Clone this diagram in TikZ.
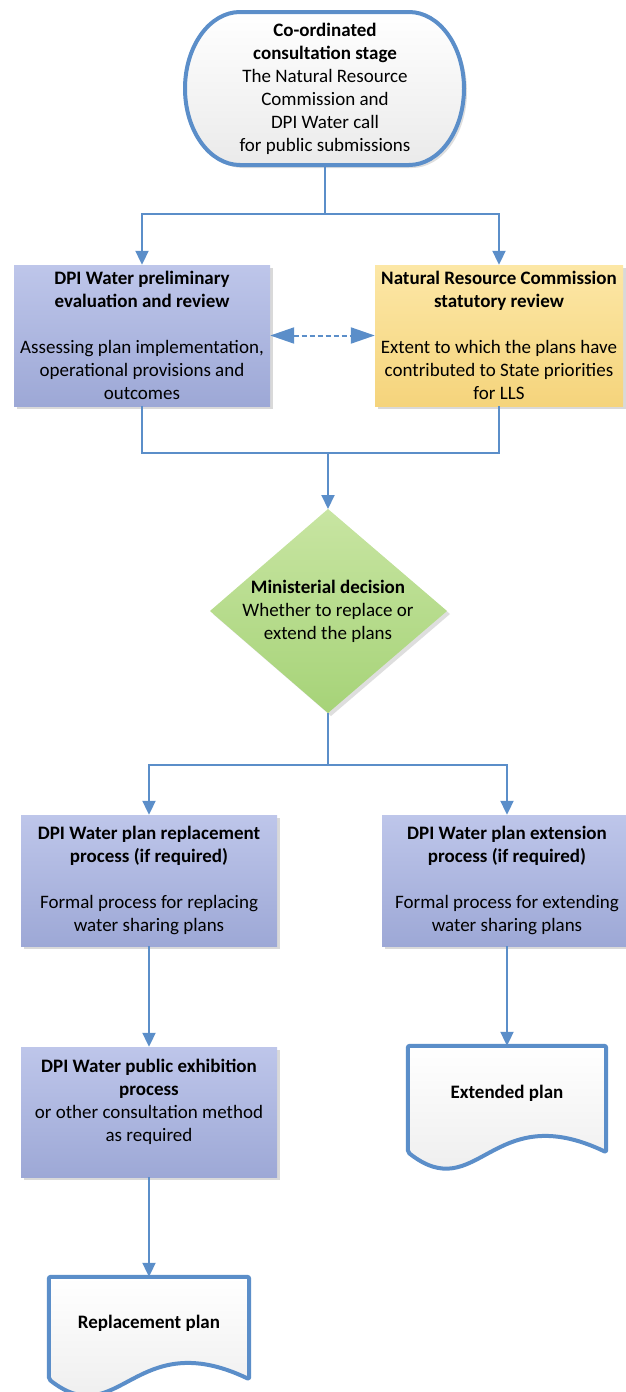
\documentclass[tikz,border=0pt]{standalone}
\usepackage{fontspec}
\setmainfont{Carlito}
\usetikzlibrary{arrows.meta,shadows,calc}
\definecolor{lblue}{RGB}{91,142,201}
\definecolor{boxtop}{RGB}{190,198,234}
\definecolor{boxbot}{RGB}{157,168,214}
\definecolor{ytop}{RGB}{252,231,166}
\definecolor{ybot}{RGB}{245,212,124}
\definecolor{gtop}{RGB}{200,229,162}
\definecolor{gbot}{RGB}{166,211,120}
\definecolor{wbot}{RGB}{234,234,234}
\begin{document}
\begin{tikzpicture}[x=1pt,y=1pt,
  txt/.style={font=\fontsize{19}{23}\selectfont, align=center, inner sep=0pt, text=black},
  shd/.style={drop shadow={shadow xshift=3pt, shadow yshift=-3pt, fill=black, opacity=0.15}},
  procbox/.style={txt, rectangle, top color=boxtop, bottom color=boxbot, shd},
  ybox/.style={txt, rectangle, top color=ytop, bottom color=ybot, shd},
  docn/.style={rectangle, inner sep=0pt},
  shadowfill/.style={fill=black, opacity=0.13},
  bord/.style={draw=lblue, line width=4pt, line join=round, top color=white, bottom color=wbot},
  ln/.style={draw=lblue, line width=2pt},
  arr/.style={ln, -{Triangle[width=13pt,length=14pt]}},
  dbl/.style={ln, dash pattern=on 5pt off 3pt, {Triangle[width=16pt,length=24pt]}-{Triangle[width=16pt,length=24pt]}}
]
\useasboundingbox (0,0) rectangle (625,-1392);

% ---- start terminator
\fill[shadowfill] (412,-15) arc[start angle=90,end angle=-90,x radius=55,y radius=76.5] -- (243,-168) arc[start angle=270,end angle=90,x radius=55,y radius=76.5] -- cycle;
\path[bord] (409,-12) arc[start angle=90,end angle=-90,x radius=55,y radius=76.5] -- (240,-165) arc[start angle=270,end angle=90,x radius=55,y radius=76.5] -- cycle;
\node[txt] (start) at (325,-88.5) {\textbf{Co-ordinated}\\\textbf{consultation stage}\\The Natural Resource\\Commission and\\DPI Water call\\for public submissions};
\coordinate (startb) at (325,-165);

% ---- review boxes
\node[procbox, minimum width=256pt, minimum height=141pt] (dpi1) at (142,-335.5)
  {\textbf{DPI Water preliminary}\\\textbf{evaluation and review}\\[23pt]Assessing plan implementation,\\operational provisions and\\outcomes};
\node[ybox, minimum width=248pt, minimum height=141pt] (nrc) at (499,-335.5)
  {\textbf{Natural Resource Commission}\\\textbf{statutory review}\\[23pt]Extent to which the plans have\\contributed to State priorities\\for LLS};

% ---- decision diamond
\coordinate (dectop) at (328,-509);
\coordinate (decbot) at (328,-713);
\coordinate (decl) at (210,-611);
\coordinate (decr) at (447,-611);
\fill[shadowfill] ([shift={(3,-3)}]dectop) -- ([shift={(3,-3)}]decr) -- ([shift={(3,-3)}]decbot) -- ([shift={(3,-3)}]decl) -- cycle;
\path[top color=gtop, bottom color=gbot] (dectop) -- (decr) -- (decbot) -- (decl) -- cycle;
\node[txt] (dec) at (328,-611) {\textbf{Ministerial decision}\\Whether to replace or\\extend the plans};

% ---- process boxes
\node[procbox, minimum width=256pt, minimum height=131pt] (rep) at (149,-880.5)
  {\textbf{DPI Water plan replacement}\\\textbf{process (if required)}\\[23pt]Formal process for replacing\\water sharing plans};
\node[procbox, minimum width=250pt, minimum height=131pt] (ext) at (507,-880.5)
  {\textbf{DPI Water plan extension}\\\textbf{process (if required)}\\[23pt]Formal process for extending\\water sharing plans};
\node[procbox, minimum width=256pt, minimum height=130pt] (exh) at (149,-1112) {};
\node[txt] (exht) at (149,-1101.5)
  {\textbf{DPI Water public exhibition}\\\textbf{process}\\or other consultation method\\as required};

% ---- documents
\node[docn, minimum width=200pt, minimum height=102pt] (doc1) at (149,-1328) {};
\node[docn, minimum width=198pt, minimum height=106pt] (doc2) at (507,-1099) {};
\foreach \d in {doc1,doc2}{
  \fill[shadowfill, shift={(3,-3)}] (\d.north west) -- (\d.north east) -- (\d.south east)
     .. controls ($(\d.south east)+(-115,55)$) and ($(\d.south west)+(70,-55)$) .. (\d.south west) -- cycle;
  \path[bord, rounded corners=2pt] (\d.north west) -- (\d.north east) -- (\d.south east)
     .. controls ($(\d.south east)+(-115,55)$) and ($(\d.south west)+(70,-55)$) .. (\d.south west) -- cycle;
}
\node[txt] (doc1t) at (149,-1323) {\textbf{Replacement plan}};
\node[txt] (doc2t) at (507,-1093) {\textbf{Extended plan}};

% ---- connectors
\coordinate (j1) at (325,-214);
\draw[ln] (startb) -- (j1);
\draw[arr] (j1) -| (dpi1.north);
\draw[arr] (j1) -| (nrc.north);
\draw[dbl] (dpi1) -- (nrc);
\coordinate (j2) at (328,-453);
\draw[ln] (dpi1.south) |- (j2);
\draw[ln] (nrc.south) |- (j2);
\draw[arr] (j2) -- (dectop);
\coordinate (j3) at (328,-765);
\draw[ln] (decbot) -- (j3);
\draw[arr] (j3) -| (rep.north);
\draw[arr] (j3) -| (ext.north);
\draw[arr] (rep) -- (exh);
\draw[arr] (exh) -- (doc1.north);
\draw[arr] (ext) -- (doc2.north);
\end{tikzpicture}
\end{document}
